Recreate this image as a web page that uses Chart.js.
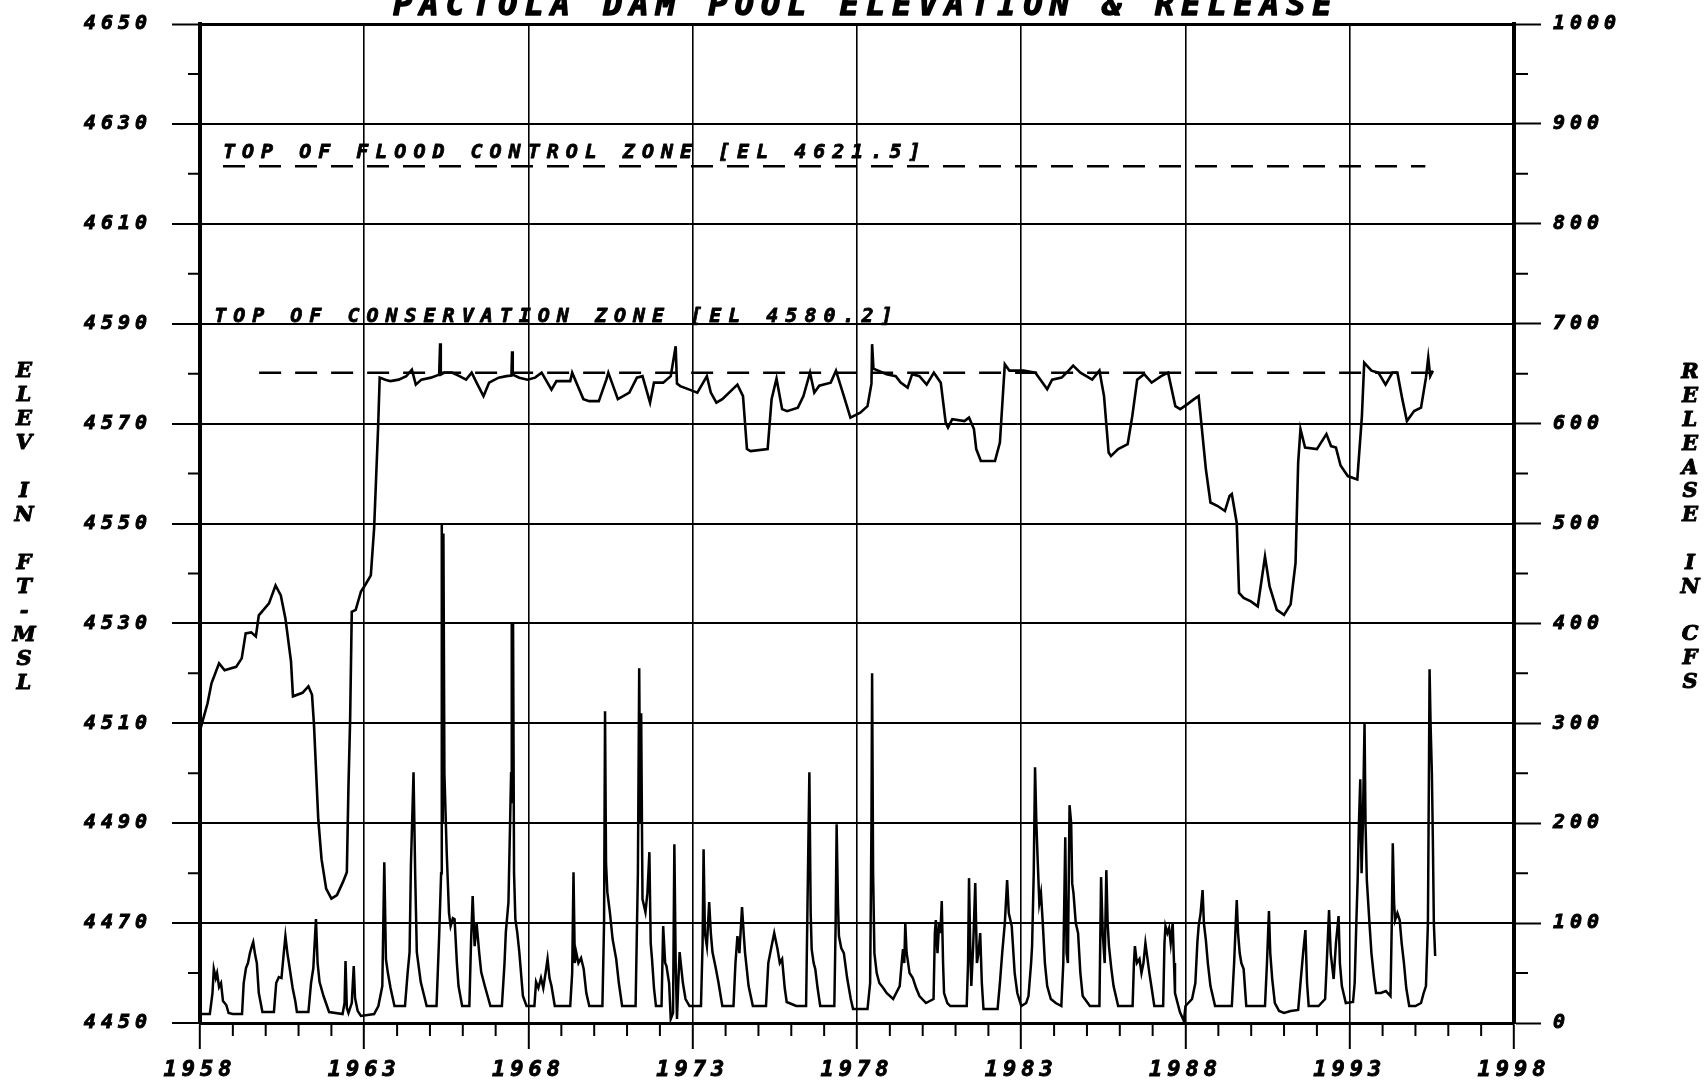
<!DOCTYPE html>
<html>
<head>
<meta charset="utf-8">
<title>Pactola Dam Pool Elevation & Release</title>
<script src="https://cdn.jsdelivr.net/npm/chart.js@4.4.1/dist/chart.umd.min.js"></script>
<style>
  html, body { margin: 0; padding: 0; background: #fff; }
  canvas { display: block; }
</style>
</head>
<body>
<canvas id="myChart" width="1704" height="1084"></canvas>
<script>
// tick labels
let yearTicks = [1958, 1963, 1968, 1973, 1978, 1983, 1988, 1993, 1998];
let elevTicks = [4450, 4470, 4490, 4510, 4530, 4550, 4570, 4590, 4610, 4630, 4650];
let releaseTicks = [0, 100, 200, 300, 400, 500, 600, 700, 800, 900, 1000];

// zone levels (ft-msl)
let floodLevel = 4621.5;
let floodYears = [1958.7, 1995.3];
let consLevel = 4580.2;
let consYears = [1959.8, 1995.6];

// pool elevation
let elevYears = [
  1958.00, 1958.06, 1958.23, 1958.35, 1958.58, 1958.75, 1959.10, 1959.27, 1959.39, 1959.56,
  1959.70, 1959.79, 1960.10, 1960.30, 1960.46, 1960.60, 1960.77, 1960.83, 1961.12, 1961.30,
  1961.41, 1961.47, 1961.60, 1961.70, 1961.84, 1962.00, 1962.17, 1962.35, 1962.47, 1962.52,
  1962.57, 1962.62, 1962.74, 1962.90, 1963.02, 1963.20, 1963.30, 1963.36, 1963.42, 1963.47,
  1963.64, 1963.80, 1964.05, 1964.28, 1964.45, 1964.57, 1964.74, 1965.03, 1965.28, 1965.31,
  1965.33, 1965.44, 1965.67, 1965.90, 1966.10, 1966.27, 1966.45, 1966.63, 1966.80, 1967.09,
  1967.33, 1967.48, 1967.50, 1967.52, 1967.72, 1967.97, 1968.20, 1968.40, 1968.70, 1968.85,
  1969.27, 1969.33, 1969.67, 1969.85, 1970.14, 1970.37, 1970.43, 1970.72, 1971.07, 1971.30,
  1971.47, 1971.70, 1971.82, 1972.10, 1972.33, 1972.48, 1972.52, 1972.62, 1972.90, 1973.14,
  1973.43, 1973.55, 1973.72, 1973.90, 1974.36, 1974.53, 1974.65, 1974.76, 1975.28, 1975.40,
  1975.55, 1975.72, 1975.87, 1976.20, 1976.37, 1976.57, 1976.70, 1976.85, 1977.20, 1977.36,
  1977.60, 1977.80, 1978.10, 1978.32, 1978.44, 1978.46, 1978.50, 1978.90, 1979.18, 1979.33,
  1979.54, 1979.68, 1979.90, 1980.12, 1980.34, 1980.55, 1980.70, 1980.77, 1980.90, 1981.27,
  1981.41, 1981.56, 1981.63, 1981.77, 1982.20, 1982.35, 1982.50, 1982.64, 1983.07, 1983.43,
  1983.65, 1983.79, 1983.94, 1984.23, 1984.44, 1984.58, 1984.80, 1985.16, 1985.38, 1985.52,
  1985.66, 1985.73, 1985.95, 1986.24, 1986.38, 1986.53, 1986.74, 1986.97, 1987.26, 1987.47,
  1987.69, 1987.84, 1988.04, 1988.26, 1988.40, 1988.48, 1988.62, 1988.76, 1988.98, 1989.20,
  1989.34, 1989.41, 1989.56, 1989.63, 1989.77, 1989.99, 1990.20, 1990.42, 1990.56, 1990.78,
  1991.00, 1991.20, 1991.35, 1991.43, 1991.50, 1991.64, 1992.00, 1992.29, 1992.43, 1992.58,
  1992.72, 1992.94, 1993.23, 1993.37, 1993.44, 1993.66, 1993.87, 1994.09, 1994.30, 1994.45,
  1994.60, 1994.74, 1994.96, 1995.17, 1995.32, 1995.39, 1995.45, 1995.53
];
let elevValues = [
  4508.5, 4510.0, 4514.0, 4518.0, 4522.0, 4520.6, 4521.3, 4523.0, 4528.0, 4528.2,
  4527.4, 4531.6, 4534.0, 4537.6, 4535.6, 4531.0, 4522.4, 4515.4, 4516.1, 4517.4,
  4515.7, 4509.7, 4490.8, 4482.8, 4476.9, 4474.9, 4475.6, 4478.2, 4480.2, 4497.5,
  4510.7, 4532.3, 4532.7, 4536.4, 4537.6, 4539.6, 4549.0, 4558.9, 4568.9, 4579.2,
  4578.8, 4578.5, 4578.8, 4579.5, 4580.8, 4577.8, 4578.8, 4579.2, 4579.8, 4586.1,
  4579.8, 4580.2, 4580.2, 4579.5, 4578.8, 4580.2, 4577.8, 4575.5, 4578.2, 4579.2,
  4579.5, 4579.6, 4584.5, 4579.8, 4579.2, 4578.8, 4579.2, 4580.2, 4576.8, 4578.5,
  4578.5, 4580.2, 4574.9, 4574.5, 4574.5, 4578.8, 4580.2, 4574.9, 4576.2, 4579.2,
  4579.5, 4574.2, 4578.2, 4578.2, 4579.5, 4585.5, 4578.0, 4577.5, 4576.8, 4576.2,
  4579.5, 4576.2, 4574.2, 4574.9, 4577.8, 4575.5, 4564.9, 4564.5, 4564.9, 4574.9,
  4579.0, 4572.9, 4572.5, 4573.2, 4575.5, 4580.2, 4576.2, 4577.6, 4578.2, 4580.6,
  4575.5, 4571.2, 4572.2, 4573.5, 4578.0, 4585.9, 4581.0, 4579.9, 4579.5, 4578.2,
  4577.2, 4579.9, 4579.5, 4577.8, 4580.2, 4578.2, 4570.2, 4569.2, 4570.9, 4570.5,
  4571.2, 4568.9, 4564.9, 4562.5, 4562.5, 4566.2, 4581.9, 4580.6, 4580.6, 4580.2,
  4578.2, 4576.9, 4578.8, 4579.2, 4580.6, 4581.6, 4580.2, 4578.8, 4580.6, 4575.5,
  4564.2, 4563.5, 4564.9, 4565.9, 4571.5, 4578.8, 4579.9, 4578.2, 4579.5, 4580.2,
  4573.5, 4572.9, 4573.8, 4574.9, 4575.5, 4570.2, 4560.9, 4554.2, 4553.5, 4552.5,
  4555.5, 4555.9, 4550.1, 4536.1, 4535.1, 4534.4, 4533.4, 4543.4, 4537.4, 4532.7,
  4531.7, 4533.8, 4542.1, 4562.2, 4568.9, 4565.2, 4564.9, 4567.9, 4565.5, 4565.2,
  4561.6, 4559.5, 4558.8, 4571.5, 4582.2, 4580.6, 4580.2, 4577.8, 4580.2, 4580.2,
  4574.9, 4570.5, 4572.5, 4573.2, 4579.2, 4583.2, 4579.5, 4580.6
];

// release in cfs
let releaseYears = [
  1958.00, 1958.30, 1958.38, 1958.42, 1958.48, 1958.52, 1958.58, 1958.64, 1958.70, 1958.80,
  1958.87, 1959.00, 1959.28, 1959.33, 1959.40, 1959.46, 1959.52, 1959.58, 1959.62, 1959.68,
  1959.73, 1959.79, 1959.90, 1960.25, 1960.32, 1960.40, 1960.48, 1960.55, 1960.60, 1960.66,
  1960.72, 1960.82, 1960.90, 1960.95, 1961.30, 1961.38, 1961.45, 1961.53, 1961.58, 1961.64,
  1961.76, 1961.93, 1962.34, 1962.40, 1962.43, 1962.47, 1962.52, 1962.62, 1962.68, 1962.72,
  1962.80, 1962.90, 1963.30, 1963.43, 1963.55, 1963.61, 1963.66, 1963.72, 1963.80, 1963.92,
  1964.24, 1964.32, 1964.38, 1964.42, 1964.50, 1964.55, 1964.60, 1964.72, 1964.90, 1965.20,
  1965.28, 1965.34, 1965.36, 1965.39, 1965.41, 1965.44, 1965.51, 1965.58, 1965.63, 1965.70,
  1965.75, 1965.82, 1965.87, 1965.98, 1966.20, 1966.25, 1966.30, 1966.36, 1966.42, 1966.50,
  1966.56, 1966.67, 1966.84, 1967.19, 1967.27, 1967.31, 1967.39, 1967.47, 1967.49, 1967.51,
  1967.53, 1967.56, 1967.60, 1967.66, 1967.72, 1967.83, 1967.94, 1968.18, 1968.23, 1968.30,
  1968.38, 1968.45, 1968.52, 1968.58, 1968.64, 1968.70, 1968.80, 1969.27, 1969.33, 1969.37,
  1969.41, 1969.45, 1969.52, 1969.60, 1969.68, 1969.76, 1969.85, 1970.25, 1970.30, 1970.33,
  1970.36, 1970.40, 1970.48, 1970.56, 1970.67, 1970.75, 1970.85, 1971.26, 1971.33, 1971.37,
  1971.40, 1971.43, 1971.47, 1971.56, 1971.62, 1971.68, 1971.72, 1971.76, 1971.82, 1971.88,
  1972.05, 1972.10, 1972.16, 1972.20, 1972.28, 1972.33, 1972.40, 1972.44, 1972.48, 1972.52,
  1972.56, 1972.60, 1972.70, 1972.78, 1972.90, 1973.25, 1973.30, 1973.33, 1973.37, 1973.43,
  1973.50, 1973.55, 1973.60, 1973.70, 1973.78, 1973.90, 1974.24, 1974.30, 1974.36, 1974.42,
  1974.50, 1974.55, 1974.59, 1974.70, 1974.83, 1975.23, 1975.30, 1975.40, 1975.48, 1975.58,
  1975.65, 1975.72, 1975.80, 1975.86, 1976.15, 1976.45, 1976.49, 1976.55, 1976.59, 1976.62,
  1976.68, 1976.73, 1976.80, 1976.88, 1977.31, 1977.35, 1977.38, 1977.42, 1977.45, 1977.52,
  1977.60, 1977.70, 1977.81, 1977.88, 1978.32, 1978.40, 1978.44, 1978.46, 1978.49, 1978.53,
  1978.60, 1978.68, 1978.80, 1978.90, 1979.10, 1979.30, 1979.36, 1979.40, 1979.44, 1979.47,
  1979.51, 1979.54, 1979.60, 1979.70, 1979.80, 1979.90, 1980.10, 1980.33, 1980.37, 1980.40,
  1980.45, 1980.50, 1980.54, 1980.58, 1980.62, 1980.65, 1980.75, 1980.84, 1981.34, 1981.38,
  1981.41, 1981.45, 1981.48, 1981.54, 1981.60, 1981.65, 1981.70, 1981.75, 1981.80, 1981.85,
  1982.28, 1982.35, 1982.42, 1982.50, 1982.57, 1982.62, 1982.71, 1982.80, 1982.88, 1983.00,
  1983.15, 1983.22, 1983.30, 1983.33, 1983.38, 1983.42, 1983.46, 1983.50, 1983.55, 1983.60,
  1983.65, 1983.72, 1983.79, 1983.90, 1984.05, 1984.22, 1984.28, 1984.34, 1984.38, 1984.42,
  1984.47, 1984.52, 1984.55, 1984.59, 1984.66, 1984.73, 1984.80, 1984.87, 1985.09, 1985.38,
  1985.43, 1985.48, 1985.54, 1985.59, 1985.63, 1985.67, 1985.74, 1985.81, 1985.95, 1986.39,
  1986.43, 1986.46, 1986.52, 1986.60, 1986.66, 1986.72, 1986.78, 1986.82, 1986.90, 1986.96,
  1987.05, 1987.32, 1987.36, 1987.39, 1987.45, 1987.50, 1987.55, 1987.61, 1987.65, 1987.68,
  1987.83, 1987.95, 1988.00, 1988.20, 1988.30, 1988.36, 1988.40, 1988.46, 1988.52, 1988.56,
  1988.62, 1988.68, 1988.76, 1988.90, 1989.41, 1989.48, 1989.53, 1989.56, 1989.60, 1989.65,
  1989.70, 1989.77, 1989.85, 1990.42, 1990.48, 1990.54, 1990.58, 1990.64, 1990.72, 1990.85,
  1991.00, 1991.20, 1991.43, 1991.50, 1991.58, 1991.65, 1991.70, 1991.75, 1992.05, 1992.25,
  1992.30, 1992.37, 1992.42, 1992.51, 1992.58, 1992.66, 1992.70, 1992.76, 1992.88, 1993.10,
  1993.15, 1993.20, 1993.24, 1993.28, 1993.32, 1993.36, 1993.40, 1993.45, 1993.48, 1993.52,
  1993.60, 1993.66, 1993.74, 1993.80, 1993.95, 1994.10, 1994.24, 1994.28, 1994.31, 1994.35,
  1994.38, 1994.45, 1994.52, 1994.58, 1994.65, 1994.72, 1994.81, 1995.00, 1995.17, 1995.25,
  1995.32, 1995.38, 1995.41, 1995.43, 1995.46, 1995.50, 1995.53, 1995.56, 1995.60
];
let releaseValues = [
  9, 9, 30, 54, 45, 50, 36, 40, 22, 18,
  10, 9, 9, 40, 55, 60, 70, 77, 81, 68,
  60, 30, 11, 11, 40, 46, 45, 70, 87, 70,
  57, 35, 22, 11, 11, 40, 55, 104, 60, 41,
  27, 11, 9, 20, 62, 15, 10, 20, 57, 25,
  12, 7, 9, 17, 37, 161, 64, 50, 35, 17,
  17, 50, 71, 157, 251, 150, 71, 41, 17, 17,
  87, 150, 500, 200, 490, 250, 171, 110, 97, 105,
  104, 60, 37, 17, 17, 80, 127, 77, 100, 70,
  51, 37, 17, 17, 60, 91, 121, 250, 400, 220,
  400, 150, 104, 90, 71, 27, 17, 17, 41, 35,
  45, 35, 50, 64, 45, 37, 17, 17, 50, 151,
  60, 71, 60, 65, 54, 30, 17, 17, 100, 312,
  160, 131, 110, 84, 64, 40, 17, 17, 150, 355,
  200, 310, 124, 111, 130, 171, 80, 64, 35, 17,
  17, 97, 60, 57, 40, 4, 10, 179, 60, 4,
  40, 71, 40, 24, 17, 17, 80, 174, 90, 77,
  121, 90, 71, 55, 41, 17, 17, 60, 87, 70,
  116, 90, 71, 37, 17, 17, 60, 77, 90, 74,
  60, 64, 35, 21, 17, 17, 110, 251, 110, 74,
  60, 54, 35, 17, 17, 100, 199, 120, 87, 75,
  70, 45, 24, 14, 14, 40, 200, 350, 150, 70,
  50, 40, 35, 30, 24, 37, 60, 74, 60, 100,
  70, 64, 50, 45, 35, 27, 20, 24, 90, 103,
  70, 100, 90, 122, 60, 30, 20, 17, 17, 60,
  145, 70, 37, 80, 140, 60, 70, 90, 40, 14,
  14, 40, 70, 100, 143, 110, 97, 50, 30, 17,
  20, 27, 60, 77, 150, 256, 200, 163, 120, 130,
  103, 60, 37, 24, 20, 17, 60, 186, 70, 60,
  218, 200, 140, 130, 100, 90, 50, 27, 17, 17,
  146, 90, 60, 153, 100, 77, 55, 37, 17, 17,
  60, 77, 60, 64, 50, 60, 80, 70, 50, 37,
  17, 17, 80, 97, 90, 95, 80, 100, 60, 30,
  11, 2, 17, 24, 40, 80, 97, 110, 133, 100,
  83, 60, 37, 17, 17, 60, 100, 123, 90, 70,
  60, 54, 17, 17, 60, 112, 70, 44, 20, 12,
  10, 12, 13, 40, 70, 93, 40, 17, 17, 24,
  60, 113, 70, 44, 80, 107, 60, 37, 20, 21,
  40, 100, 143, 200, 244, 150, 200, 300, 200, 143,
  100, 70, 45, 30, 30, 32, 27, 100, 180, 120,
  103, 110, 103, 80, 60, 35, 17, 17, 20, 30,
  37, 100, 250, 354, 300, 250, 183, 100, 67
];

// texts
let titleText = 'PACTOLA DAM POOL ELEVATION & RELEASE';
let leftAxisTitle = 'ELEV IN FT-MSL';
let rightAxisTitle = 'RELEASE IN CFS';
let floodText = 'TOP OF FLOOD CONTROL ZONE [EL 4621.5]';
let consText = 'TOP OF CONSERVATION ZONE [EL 4580.2]';

function points(xs, ys) {
    return xs.map((x, i) => ({x: x, y: ys[i]}));
}

let monoFont = '"DejaVu Sans Mono", "Liberation Mono", monospace';

// fill + thin stroke, the scan's lettering is heavy
function heavyText(ctx, text, x, y, stroke) {
    ctx.fillText(text, x, y);
    ctx.lineWidth = stroke;
    ctx.strokeText(text, x, y);
}

// minor ticks, titles and zone notes
let decorPlugin = {
    id: 'decor',
    beforeDraw(chart) {
        chart.ctx.letterSpacing = '5px';
    },
    afterDraw(chart) {
        let ctx = chart.ctx;
        let xs = chart.scales.x, yl = chart.scales.y, yr = chart.scales.y2;
        let area = chart.chartArea;
        ctx.save();
        ctx.strokeStyle = '#000';
        ctx.lineWidth = 2;
        ctx.beginPath();
        for (let i = 0; i < elevTicks.length - 1; i++) {
            let py = yl.getPixelForValue((elevTicks[i] + elevTicks[i + 1]) / 2);
            ctx.moveTo(area.left - 12, py);
            ctx.lineTo(area.left, py);
        }
        for (let i = 0; i < releaseTicks.length - 1; i++) {
            let py = yr.getPixelForValue((releaseTicks[i] + releaseTicks[i + 1]) / 2);
            ctx.moveTo(area.right, py);
            ctx.lineTo(area.right + 14, py);
        }
        for (let yr0 = yearTicks[0]; yr0 <= yearTicks[yearTicks.length - 1]; yr0++) {
            if (yearTicks.includes(yr0)) continue;
            let px = xs.getPixelForValue(yr0);
            ctx.moveTo(px, area.bottom);
            ctx.lineTo(px, area.bottom + 13);
        }
        ctx.stroke();

        ctx.fillStyle = '#000';
        ctx.lineJoin = 'round';
        // title, cut by the top edge as in the scan
        ctx.font = 'italic bold 32px ' + monoFont;
        ctx.letterSpacing = '7px';
        ctx.textAlign = 'center';
        ctx.textBaseline = 'alphabetic';
        heavyText(ctx, titleText, 866, 15, 1.4);

        // zone notes
        ctx.font = 'italic bold 20px ' + monoFont;
        ctx.letterSpacing = '7px';
        ctx.textAlign = 'left';
        heavyText(ctx, floodText, xs.getPixelForValue(1958.7), yl.getPixelForValue(floodLevel) - 8, 0.8);
        heavyText(ctx, consText, xs.getPixelForValue(1958.43), yl.getPixelForValue(4590) - 2, 0.8);

        // stacked axis titles
        ctx.font = 'italic bold 21px "DejaVu Serif", serif';
        ctx.letterSpacing = '0px';
        ctx.textAlign = 'center';
        ctx.textBaseline = 'middle';
        for (let i = 0; i < leftAxisTitle.length; i++) {
            heavyText(ctx, leftAxisTitle[i], 24, 372 + i * 24, 1);
        }
        for (let i = 0; i < rightAxisTitle.length; i++) {
            heavyText(ctx, rightAxisTitle[i], 1690, 373 + i * 23.8, 1);
        }
        ctx.restore();
    }
};

let tickFont = {family: monoFont, size: 20, style: 'italic', weight: 'bold'};

// keep the plot box where the scan has it
function noOverhang(scale) {
    scale.paddingTop = 0;
    scale.paddingBottom = 0;
}

let context = document.getElementById('myChart');
let myChart = new Chart(context, {
    type: 'line',
    data: {
        datasets: [
            {
                label: 'Elevation',
                data: points(elevYears, elevValues),
                yAxisID: 'y',
                borderColor: '#000',
                borderWidth: 2.6,
                pointRadius: 0,
                tension: 0
            },
            {
                label: 'Release',
                data: points(releaseYears, releaseValues),
                yAxisID: 'y2',
                borderColor: '#000',
                borderWidth: 2.5,
                pointRadius: 0,
                tension: 0
            },
            {
                label: 'Flood control zone',
                data: points(floodYears, [floodLevel, floodLevel]),
                yAxisID: 'y',
                borderColor: '#000',
                borderWidth: 2.5,
                borderDash: [22, 14],
                pointRadius: 0
            },
            {
                label: 'Conservation zone',
                data: points(consYears, [consLevel, consLevel]),
                yAxisID: 'y',
                borderColor: '#000',
                borderWidth: 2.5,
                borderDash: [22, 14],
                pointRadius: 0
            }
        ]
    },
    options: {
        responsive: false,
        animation: false,
        devicePixelRatio: 1,
        layout: {padding: {top: 24, left: 0, right: 0, bottom: 0}},
        plugins: {
            legend: {display: false},
            tooltip: {enabled: false}
        },
        scales: {
            x: {
                type: 'linear',
                min: 1958,
                max: 1998,
                afterBuildTicks: (scale) => { scale.ticks = yearTicks.map(v => ({value: v})); },
                afterFit: (scale) => { scale.height = 61; scale.paddingLeft = 0; scale.paddingRight = 0; },
                ticks: {
                    callback: (v) => String(v),
                    font: {family: monoFont, size: 22, style: 'italic', weight: 'bold'},
                    color: '#000',
                    textStrokeColor: '#000',
                    textStrokeWidth: 0.9,
                    padding: 8,
                    maxRotation: 0
                },
                grid: {
                    color: '#000',
                    lineWidth: 1.6,
                    tickLength: 26,
                    tickWidth: 2
                },
                border: {display: true, color: '#000', width: 3}
            },
            y: {
                position: 'left',
                min: 4450,
                max: 4650,
                afterBuildTicks: (scale) => { scale.ticks = elevTicks.map(v => ({value: v})); },
                afterFit: (scale) => { scale.width = 200; noOverhang(scale); },
                ticks: {
                    callback: (v) => String(v),
                    font: tickFont,
                    color: '#000',
                    textStrokeColor: '#000',
                    textStrokeWidth: 0.9,
                    padding: 20
                },
                grid: {
                    color: '#000',
                    lineWidth: (c) => (c.tick && c.tick.value === 4650 ? 3 : 2),
                    tickLength: 28,
                    tickWidth: 2
                },
                border: {display: true, color: '#000', width: 4}
            },
            y2: {
                position: 'right',
                min: 0,
                max: 1000,
                afterBuildTicks: (scale) => { scale.ticks = releaseTicks.map(v => ({value: v})); },
                afterFit: (scale) => { scale.width = 190; noOverhang(scale); },
                ticks: {
                    callback: (v) => String(v),
                    font: tickFont,
                    color: '#000',
                    textStrokeColor: '#000',
                    textStrokeWidth: 0.9,
                    padding: 12
                },
                grid: {
                    color: '#000',
                    drawOnChartArea: false,
                    tickLength: 27,
                    tickWidth: 2
                },
                border: {display: true, color: '#000', width: 4}
            }
        }
    },
    plugins: [decorPlugin]
});
</script>
</body>
</html>
